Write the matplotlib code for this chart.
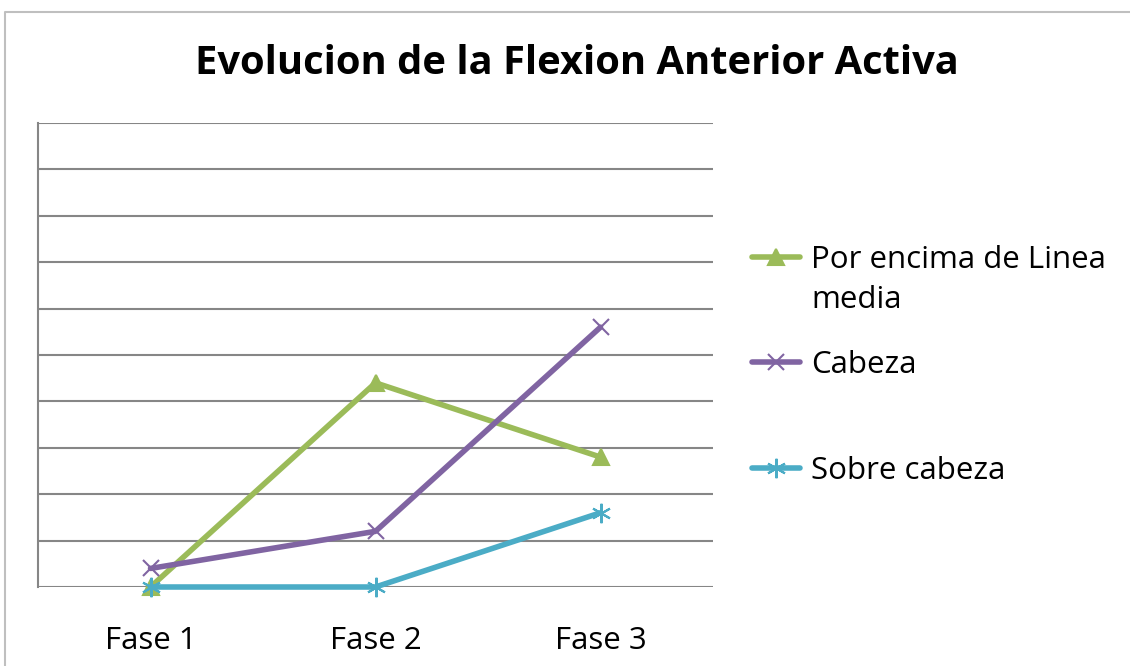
import matplotlib
matplotlib.use("Agg")
import matplotlib.pyplot as plt
from matplotlib.lines import Line2D

categories = ["Fase 1", "Fase 2", "Fase 3"]
series_names = ["Por encima de Linea\nmedia", "Cabeza", "Sobre cabeza"]
green_vals = [0.0, 4.4, 2.8]
purple_vals = [0.4, 1.2, 5.6]
teal_vals = [0.0, 0.0, 1.6]
title = "Evolucion de la Flexion Anterior Activa"

colors = ["#9BBB59", "#8064A2", "#4BACC6"]
markers = ["^", "x", (6, 2, 0)]
msizes = [12, 12, 14]

W, H = 1130, 666
fig = plt.figure(figsize=(W / 100, H / 100), dpi=100)
plt.rcParams['font.family'] = ['Open Sans', 'DejaVu Sans']

ax = fig.add_axes([38 / W, (H - 587) / H, 675 / W, (587 - 123) / H])
ax.set_xlim(0, 3)
ax.set_ylim(0, 10)
x = [i + 0.5 for i in range(len(categories))]

for vals, c, m, ms in zip([green_vals, purple_vals, teal_vals], colors, markers, msizes):
    ax.plot(x, vals, color=c, lw=4, marker=m, markersize=ms, markeredgewidth=1.5,
            markeredgecolor=c, markerfacecolor=c, clip_on=False, zorder=3,
            solid_capstyle='round')

ax.set_yticks(range(0, 11))
ax.set_yticklabels([])
ax.tick_params(axis='y', length=0)
ax.yaxis.grid(True, color="#868686", lw=1.5)
ax.set_axisbelow(True)
ax.set_xticks(x)
ax.set_xticklabels(categories, fontsize=22.5)
ax.tick_params(axis='x', length=0, pad=28)
for s in ["top", "right", "bottom"]:
    ax.spines[s].set_visible(False)
ax.spines["left"].set_color("#868686")
ax.spines["left"].set_linewidth(1.5)

fig.text(577 / W, 1 - 63 / H, title, fontsize=28.7, fontweight='bold',
         ha='center', va='center')

# Legend (manual)
leg_y = [257, 362, 468]
for name, c, m, ms, yy in zip(series_names, colors, markers, msizes, leg_y):
    fig.add_artist(Line2D([752 / W, 800 / W], [1 - yy / H, 1 - yy / H], color=c, lw=4,
                          solid_capstyle='round'))
    fig.add_artist(Line2D([776 / W], [1 - yy / H], color=c, marker=m, markersize=ms,
                          markeredgewidth=1.5, markeredgecolor=c, markerfacecolor=c))
    fig.text(811 / W, 1 - (yy - 12) / H, name, fontsize=22.5, ha='left', va='top',
             linespacing=1.45)

# outer chart border
fig.add_artist(Line2D([5 / W, 5 / W, 1130 / W], [0, 1 - 12 / H, 1 - 12 / H],
                      color="#BFBFBF", lw=1.5))

fig.savefig("out.png", dpi=100)
